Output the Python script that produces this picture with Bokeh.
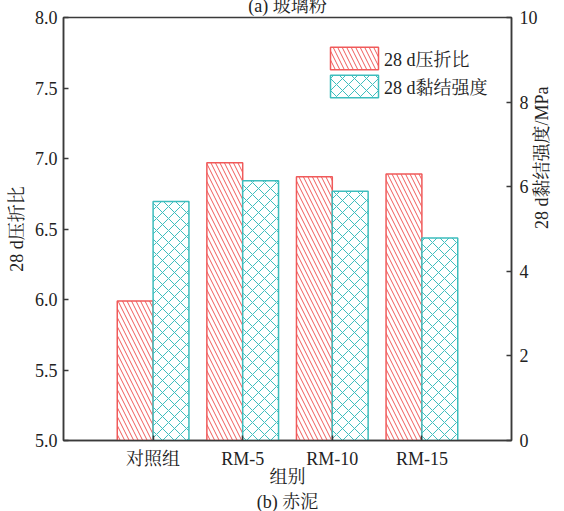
import math
from bokeh.plotting import figure
from bokeh.models import (Range1d, FactorRange, LinearAxis, FixedTicker, Legend, LegendItem,
                          Title, NumeralTickFormatter, ColumnDataSource)
from bokeh.transform import dodge
from bokeh.embed import file_html
from bokeh.resources import INLINE

categories = ["对照组", "RM-5", "RM-10", "RM-15"]
ratio_28d = [5.99, 6.97, 6.87, 6.89]          # 28 d压折比 (left axis)
bond_28d = [5.65, 6.14, 5.89, 4.79]           # 28 d黏结强度/MPa (right axis)
left_ticks = [5.0, 5.5, 6.0, 6.5, 7.0, 7.5, 8.0]
right_ticks = [0, 2, 4, 6, 8, 10]

RED = "#F05A5A"
TEAL = "#3DBDBD"
AX = "#3a3a3a"
TXT = "#222222"
FONT = "Liberation Serif, Noto Serif CJK SC, Noto Sans CJK SC"
FS = "18px"
SHIFT = 10  # the reference's top title is cropped by the page edge

src = ColumnDataSource(dict(cat=categories, ratio=ratio_28d, bond=bond_28d))

p = figure(width=564, height=511 + SHIFT, x_range=FactorRange(factors=categories, range_padding=0.25),
           y_range=Range1d(5.0, 8.0), output_backend="svg", toolbar_location=None,
           min_border_left=63, min_border_right=45, min_border_top=17 + SHIFT, min_border_bottom=71)
p.styles = {"margin-top": f"-{SHIFT}px"}
p.extra_y_ranges = {"right": Range1d(0, 10)}

r1 = p.vbar(x=dodge("cat", -0.2, range=p.x_range), top="ratio", bottom=5.0, width=0.4, source=src,
            fill_color="white", line_color=RED, line_width=1.5,
            hatch_pattern="left_diagonal_line", hatch_color=RED, hatch_scale=9, hatch_weight=1)
r2 = p.vbar(x=dodge("cat", 0.2, range=p.x_range), top="bond", bottom=0, width=0.4, source=src,
            y_range_name="right",
            fill_color="white", line_color=TEAL, line_width=1.5,
            hatch_pattern="diagonal_cross", hatch_color=TEAL, hatch_scale=12, hatch_weight=1)

p.xgrid.visible = False
p.ygrid.visible = False
p.outline_line_color = AX
p.outline_line_width = 1.5

ya = p.yaxis[0]
ya.ticker = FixedTicker(ticks=left_ticks)
ya.formatter = NumeralTickFormatter(format="0.0")
ya.axis_label = "28 d压折比"

ra = LinearAxis(y_range_name="right", ticker=FixedTicker(ticks=right_ticks),
                axis_label="28 d黏结强度/MPa")
p.add_layout(ra, "right")
try:
    ra.axis_label_orientation = math.pi / 2
except Exception as e:
    print("no axis_label_orientation:", e)

xa = p.xaxis[0]

for ax in (ya, ra, xa):
    ax.axis_line_color = AX
    ax.axis_line_width = 1.5
    ax.major_tick_line_color = AX
    ax.major_tick_line_width = 1.5
    ax.major_tick_in = 5
    ax.major_tick_out = 0
    ax.minor_tick_line_color = None
    ax.major_label_text_font = FONT
    ax.major_label_text_font_size = FS
    ax.major_label_text_color = TXT
    ax.axis_label_text_font = FONT
    ax.axis_label_text_font_size = FS
    ax.axis_label_text_font_style = "normal"
    ax.axis_label_text_color = TXT

ya.major_label_standoff = 6
ya.axis_label_standoff = 5
ra.major_label_standoff = 8
ra.axis_label_standoff = 1
xa.major_label_standoff = 8
xa.axis_label = "组别"
xa.axis_label_standoff = -5

legend = Legend(items=[LegendItem(label="28 d压折比", renderers=[r1]),
                       LegendItem(label="28 d黏结强度", renderers=[r2])],
                location=(261, 340), glyph_width=60, glyph_height=28, spacing=-3,
                label_standoff=0, padding=0, margin=0,
                border_line_alpha=0, background_fill_alpha=0,
                label_text_font=FONT, label_text_font_size=FS, label_text_color=TXT)
p.add_layout(legend, "center")

title_b = Title(text="(b) 赤泥", align="center", text_font=FONT, text_font_size=FS,
                text_font_style="normal", text_color=TXT, standoff=0)
p.add_layout(title_b, "below")

title_a = Title(text="(a) 玻璃粉", align="center", vertical_align="top", text_font=FONT,
                text_font_size=FS, text_font_style="normal", text_color=TXT, standoff=0)
p.add_layout(title_a, "above")

open("out.html", "w").write(file_html(p, INLINE))
